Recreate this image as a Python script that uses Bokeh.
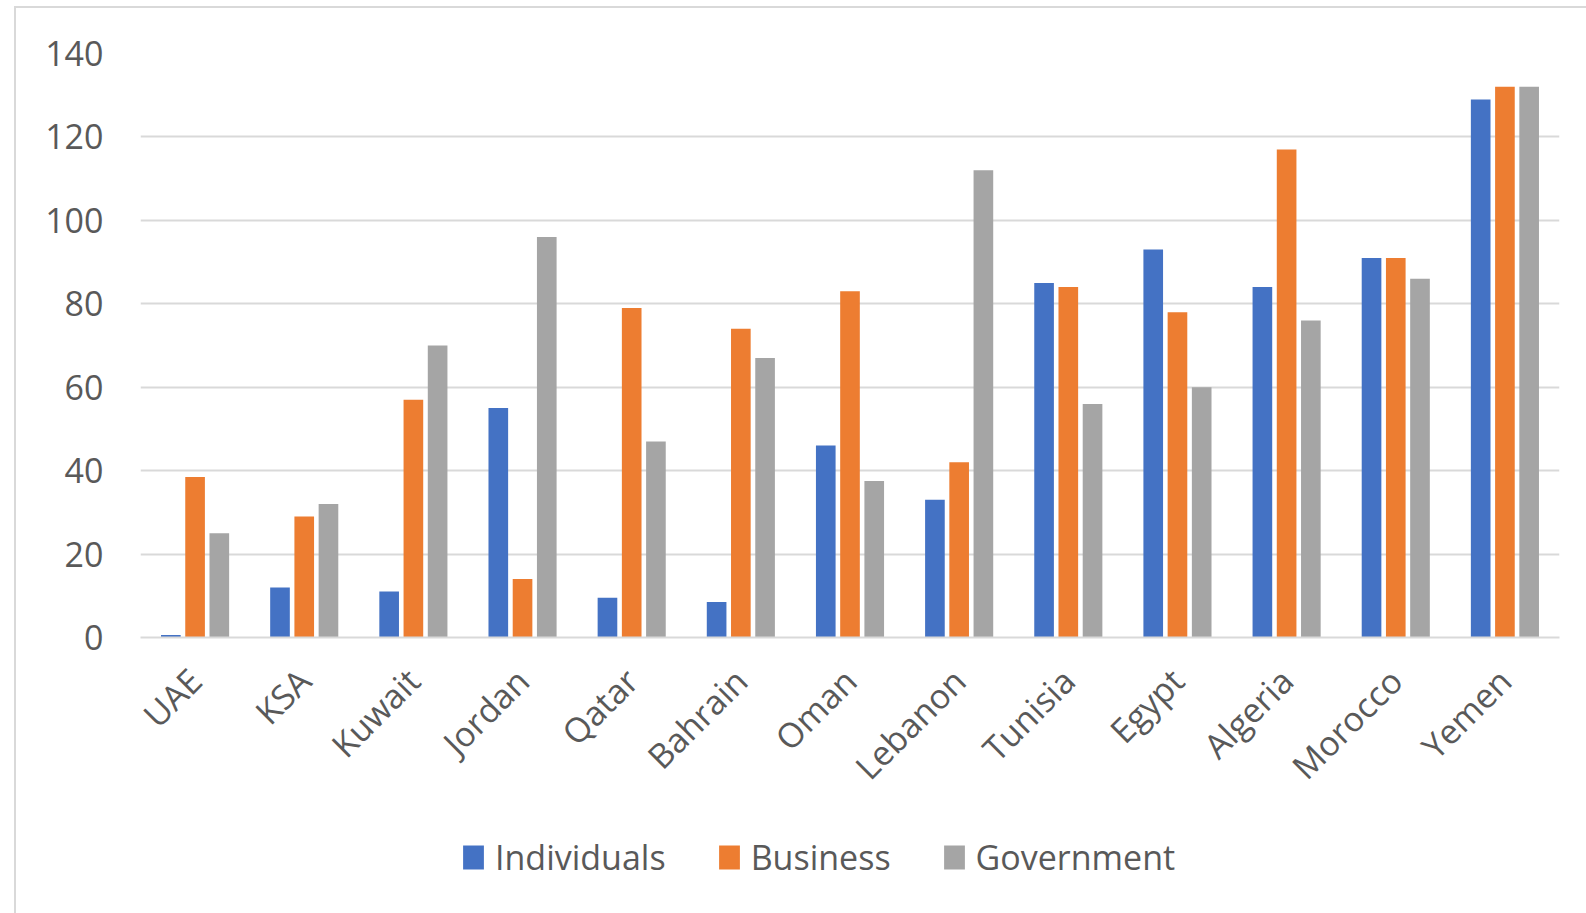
import math
from bokeh.plotting import figure
from bokeh.layouts import column
from bokeh.models import Range1d, FixedTicker, Legend, LegendItem
from bokeh.transform import dodge
from bokeh.embed import file_html
from bokeh.resources import INLINE

countries = ["UAE", "KSA", "Kuwait", "Jordan", "Qatar", "Bahrain", "Oman",
             "Lebanon", "Tunisia", "Egypt", "Algeria", "Morocco", "Yemen"]
individuals = [0.6, 12, 11, 55, 9.5, 8.5, 46, 33, 85, 93, 84, 91, 129]
business = [38.5, 29, 57, 14, 79, 74, 83, 42, 84, 78, 117, 91, 132]
government = [25, 32, 70, 96, 47, 67, 37.5, 112, 56, 60, 76, 86, 132]
series_names = ["Individuals", "Business", "Government"]
colors = ["#4472C4", "#ED7D31", "#A5A5A5"]
y_ticks = [0, 20, 40, 60, 80, 100, 120, 140]

FONT = "Open Sans"
TXT = "#595959"
GRID = "#D9D9D9"

source = dict(countries=countries, Individuals=individuals,
              Business=business, Government=government)

W = 1570
p = figure(width=W, height=800, x_range=countries, y_range=Range1d(0, 140),
           output_backend="svg", toolbar_location=None,
           min_border_left=124, min_border_right=27,
           min_border_top=45, min_border_bottom=170)
p.outline_line_color = None
p.background_fill_color = "white"
p.border_fill_color = "white"

offsets = [-0.222, 0.0, 0.222]
for name, col, off in zip(series_names, colors, offsets):
    p.vbar(x=dodge("countries", off, range=p.x_range), top=name, width=0.18,
           source=source, fill_color=col, line_color=None)

p.xgrid.grid_line_color = None
p.ygrid.grid_line_color = GRID
p.ygrid.grid_line_width = 2
p.ygrid.ticker = FixedTicker(ticks=y_ticks)

ya = p.yaxis[0]
ya.ticker = FixedTicker(ticks=y_ticks)
ya.axis_line_color = None
ya.major_tick_line_color = None
ya.minor_tick_line_color = None
ya.major_label_standoff = 31
ya.major_label_text_font = FONT
ya.major_label_text_font_size = "34px"
ya.major_label_text_color = TXT

xa = p.xaxis[0]
xa.axis_line_color = GRID
xa.axis_line_width = 2
xa.major_tick_line_color = None
xa.minor_tick_line_color = None
xa.major_label_orientation = math.pi / 4
xa.major_label_standoff = 31
xa.major_label_text_font = FONT
xa.major_label_text_font_size = "34px"
xa.major_label_text_color = TXT

# legend strip below the chart (legend keys only; no data marks drawn here)
LH = 105
pl = figure(width=W, height=LH, x_range=Range1d(0, W), y_range=Range1d(0, LH),
            output_backend="svg", toolbar_location=None,
            x_axis_type=None, y_axis_type=None,
            min_border_left=0, min_border_right=0, min_border_top=0, min_border_bottom=0)
pl.outline_line_color = None
pl.xgrid.grid_line_color = None
pl.ygrid.grid_line_color = None
pl.background_fill_color = "white"
pl.border_fill_color = "white"
items = []
for name, col in zip(series_names, colors):
    r = pl.vbar(x=[0], top=[0], bottom=[0], width=0, fill_color=col, line_color=None)
    items.append(LegendItem(label=name, renderers=[r]))

legend = Legend(items=items, orientation="horizontal", location=(320, 33),
                padding=0, margin=0, spacing=50, label_standoff=9,
                glyph_width=26, glyph_height=30,
                label_text_font=FONT, label_text_font_size="34px",
                label_text_color=TXT, border_line_color=None,
                background_fill_alpha=0)
pl.add_layout(legend)

layout = column(p, pl, spacing=0)
layout.styles = {"margin-left": "14px", "margin-top": "6px",
                 "border-left": "2px solid #D9D9D9", "border-top": "2px solid #D9D9D9"}

open("out.html", "w").write(file_html(layout, INLINE))
